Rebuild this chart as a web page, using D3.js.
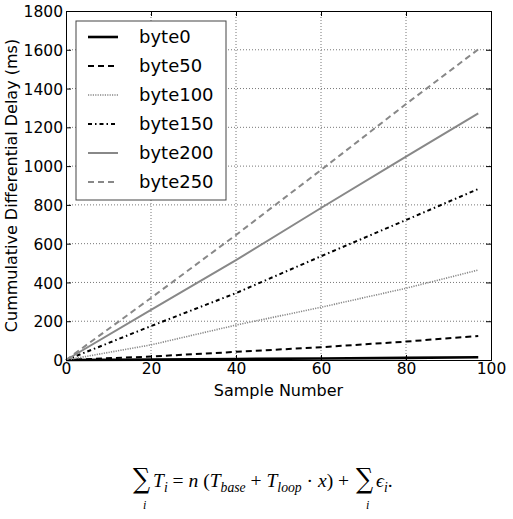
<!DOCTYPE html>
<html><head><meta charset="utf-8">
<script src="https://cdn.jsdelivr.net/npm/d3@7"></script>
<style>body{margin:0;background:#fff}svg{display:block}</style>
</head><body>
<svg id="c" width="513" height="519"></svg>
<script>
const samples = [0, 20, 40, 60, 80, 97];
const byte0   = [0, 2, 5, 8, 11, 14];
const byte50  = [0, 18, 42, 66, 95, 124];
const byte100 = [0, 78, 180, 272, 370, 464];
const byte150 = [0, 175, 345, 535, 722, 882];
const byte200 = [0, 258, 515, 784, 1049, 1272];
const byte250 = [0, 320, 645, 980, 1320, 1602];
const seriesNames = ["byte0","byte50","byte100","byte150","byte200","byte250"];
const xTicks = [0,20,40,60,80,100];
const yTicks = [0,200,400,600,800,1000,1200,1400,1600,1800];

const styles = {
  byte0:  {color:"#000", dash:null, w:2.6},
  byte50: {color:"#000", dash:"6,4", w:2},
  byte100:{color:"#888", dash:"1.2,1.2", w:1.6},
  byte150:{color:"#000", dash:"4,3,1.5,3", w:2},
  byte200:{color:"#888", dash:null, w:2},
  byte250:{color:"#888", dash:"6,4", w:2}
};
const values = {byte0, byte50, byte100, byte150, byte200, byte250};

const svg = d3.select("#c");
const L=66, T=11, W=425, H=349;
const x = d3.scaleLinear().domain([0,100]).range([L, L+W]);
const y = d3.scaleLinear().domain([0,1800]).range([T+H, T]);
const font = "'DejaVu Sans', sans-serif";

// grid
const g = svg.append("g");
g.selectAll(".gx").data(xTicks.slice(1,-1)).enter().append("line")
  .attr("x1",d=>x(d)).attr("x2",d=>x(d)).attr("y1",T).attr("y2",T+H)
  .attr("stroke","#777").attr("stroke-dasharray","1,2").attr("stroke-width",1);
g.selectAll(".gy").data(yTicks.slice(1,-1)).enter().append("line")
  .attr("y1",d=>y(d)).attr("y2",d=>y(d)).attr("x1",L).attr("x2",L+W)
  .attr("stroke","#777").attr("stroke-dasharray","1,2").attr("stroke-width",1);

// lines
const line = d3.line().x((d,i)=>x(samples[i])).y(d=>y(d));
seriesNames.forEach(n=>{
  const s = styles[n];
  svg.append("path").datum(values[n]).attr("d",line)
    .attr("fill","none").attr("stroke",s.color).attr("stroke-width",s.w)
    .attr("stroke-dasharray",s.dash);
});

// axes (inward ticks)
const fmt = d3.format("d");
const ax = svg.append("g").attr("transform",`translate(0,${T+H})`)
  .call(d3.axisBottom(x).tickValues(xTicks).tickSize(-5).tickPadding(3).tickFormat(fmt));
const axT = svg.append("g").attr("transform",`translate(0,${T})`)
  .call(d3.axisTop(x).tickValues(xTicks).tickSize(-5).tickFormat(""));
const ay = svg.append("g").attr("transform",`translate(${L},0)`)
  .call(d3.axisLeft(y).tickValues(yTicks).tickSize(-5).tickPadding(3).tickFormat(fmt));
const ayR = svg.append("g").attr("transform",`translate(${L+W},0)`)
  .call(d3.axisRight(y).tickValues(yTicks).tickSize(-5).tickFormat(""));
[ax,axT,ay,ayR].forEach(a=>{
  a.selectAll("path").attr("stroke","#000").attr("stroke-width",1);
  a.selectAll("line").attr("stroke","#000");
  a.selectAll("text").attr("font-family",font).attr("font-size",15.5).attr("fill","#000");
});
ax.selectAll("text").attr("dy","0.71em");
ay.selectAll("text").attr("dy","0.36em");

// axis labels
svg.append("text").attr("x",x(50)).attr("y",396).attr("text-anchor","middle")
  .attr("font-family",font).attr("font-size",16).text("Sample Number");
svg.append("text").attr("transform",`translate(17,${T+H/2}) rotate(-90)`)
  .attr("text-anchor","middle").attr("font-family",font).attr("font-size",16)
  .text("Cummulative Differential Delay (ms)");

// legend
const lg = svg.append("g");
lg.append("rect").attr("x",76).attr("y",21).attr("width",150).attr("height",179)
  .attr("fill","#fff").attr("stroke","#444").attr("stroke-width",1);
seriesNames.forEach((n,i)=>{
  const s = styles[n];
  const yy = 37 + i*29;
  lg.append("line").attr("x1",88).attr("x2",118).attr("y1",yy).attr("y2",yy)
    .attr("stroke",s.color).attr("stroke-width",s.w).attr("stroke-dasharray",s.dash);
  lg.append("text").attr("x",139).attr("y",yy).attr("dy","0.36em")
    .attr("font-family",font).attr("font-size",18).text(n);
});

// formula
const ff = "'Liberation Serif', 'DejaVu Serif', serif";
const fm = svg.append("g").attr("font-family",ff).attr("fill","#000");
function sum(xp){
  fm.append("text").attr("x",xp).attr("y",488).attr("font-size",24)
    .attr("font-family","'DejaVu Serif', serif").attr("transform",`translate(${xp},488) scale(1,1.15) translate(${-xp},-488)`)
    .text("\u2211");
}
sum(133);
fm.append("text").attr("x",143).attr("y",509).attr("font-size",12).attr("font-style","italic").text("i");
// [text, isSub, italic]
const parts = [
  ["T",0,1],["i",1,1],[" = ",0,0],["n",0,1],[" (",0,0],
  ["T",0,1],["base",1,1],[" + ",0,0],["T",0,1],["loop",1,1],
  [" \u00b7 ",0,0],["x",0,1],[") + ",0,0]
];
const main = fm.append("text").attr("x",153).attr("y",487).style("white-space","pre");
function build(fs){
  main.selectAll("tspan").remove();
  parts.forEach((p,i)=>{
    const prev = parts[i-1];
    let dy = 0;
    if(p[1]) dy = 0.27*fs; else if(prev && prev[1]) dy = -0.27*fs;
    main.append("tspan").text(p[0]).attr("font-size",p[1]?fs*0.7:fs)
      .attr("font-style",p[2]?"italic":"normal").attr("dy",dy);
  });
}
build(16);
const len = main.node().getComputedTextLength();
const fs = 16 * (354-153)/len;
build(fs);
sum(356);
fm.append("text").attr("x",366).attr("y",509).attr("font-size",12).attr("font-style","italic").text("i");
const tail = fm.append("text").attr("x",376).attr("y",487);
tail.append("tspan").attr("font-size",fs).attr("font-style","italic").text("\u03f5");
tail.append("tspan").attr("font-size",fs*0.7).attr("font-style","italic").attr("dy",0.27*fs).text("i");
tail.append("tspan").attr("font-size",fs).attr("dy",-0.27*fs).text(".");
</script>
</body></html>
